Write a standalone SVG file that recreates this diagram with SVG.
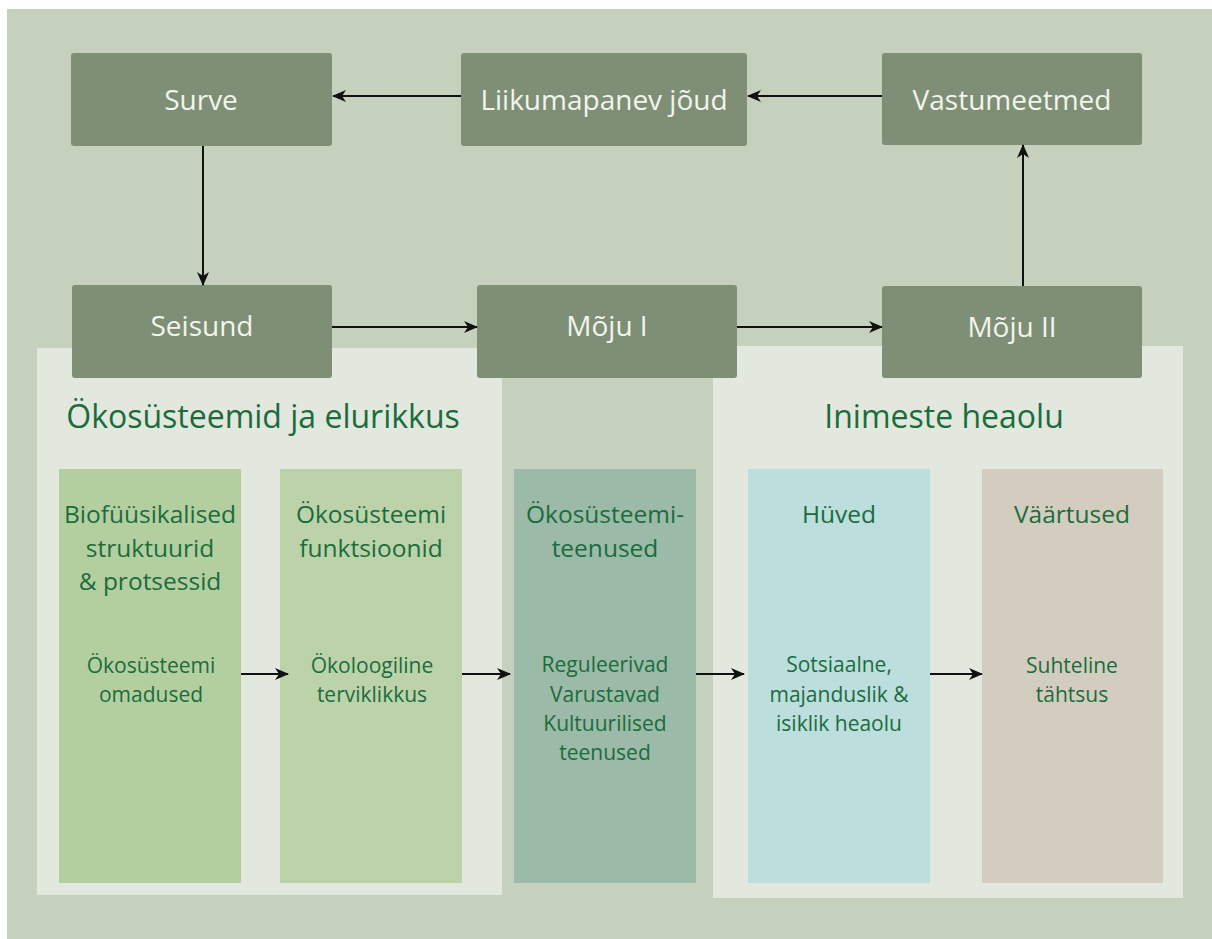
<svg xmlns="http://www.w3.org/2000/svg" width="1212" height="939" viewBox="0 0 1212 939">
  <style>
    .node rect { fill: #7f8f76; }
    .node text { fill: #f1f5ec; font-family: "Open Sans", "Noto Sans", sans-serif; font-size: 28px; text-anchor: middle; }
    .panel { fill: #e2e8de; }
    .title { fill: #1b6c3d; font-family: "Open Sans", "Noto Sans", sans-serif; font-size: 32px; text-anchor: middle; }
    .head { fill: #1b6c3d; font-family: "Open Sans", "Noto Sans", sans-serif; font-size: 24.5px; text-anchor: middle; }
    .sub { fill: #1b6c3d; font-family: "Open Sans", "Noto Sans", sans-serif; font-size: 21px; text-anchor: middle; }
    .conn line { stroke: #111; stroke-width: 2; marker-end: url(#arrow); }
  </style>
  <defs>
    <marker id="arrow" viewBox="0 0 14 12" refX="13" refY="6" markerUnits="userSpaceOnUse" markerWidth="14" markerHeight="12" orient="auto">
      <path d="M0,0 L14,6 L0,12 L4,6 Z" fill="#111"/>
    </marker>
  </defs>

  <!-- page and backdrop -->
  <rect x="0" y="0" width="1212" height="939" fill="#ffffff"/>
  <rect x="7" y="9" width="1205" height="930" fill="#c6d1bd"/>

  <!-- light section panels -->
  <rect class="panel" x="37" y="348" width="465" height="547"/>
  <rect class="panel" x="713" y="346" width="470" height="552"/>

  <!-- section titles -->
  <text class="title" x="263" y="428">Ökosüsteemid ja elurikkus</text>
  <text class="title" x="944" y="428">Inimeste heaolu</text>

  <!-- columns -->
  <g id="col-biofyysikalised">
    <rect x="59" y="469" width="182" height="414" fill="#b4cf9f"/>
    <text class="head" x="150" y="523">Biofüüsikalised</text>
    <text class="head" x="150" y="557">struktuurid</text>
    <text class="head" x="150" y="590">&amp; protsessid</text>
    <text class="sub" x="151" y="673">Ökosüsteemi</text>
    <text class="sub" x="151" y="702">omadused</text>
  </g>
  <g id="col-funktsioonid">
    <rect x="280" y="469" width="182" height="414" fill="#bcd3aa"/>
    <text class="head" x="371" y="523">Ökosüsteemi</text>
    <text class="head" x="371" y="557">funktsioonid</text>
    <text class="sub" x="372" y="673">Ökoloogiline</text>
    <text class="sub" x="372" y="702">terviklikkus</text>
  </g>
  <g id="col-teenused">
    <rect x="514" y="469" width="182" height="414" fill="#9bbaa7"/>
    <text class="head" x="605" y="523">Ökosüsteemi-</text>
    <text class="head" x="605" y="557">teenused</text>
    <text class="sub" x="605" y="672">Reguleerivad</text>
    <text class="sub" x="605" y="702">Varustavad</text>
    <text class="sub" x="605" y="731">Kultuurilised</text>
    <text class="sub" x="605" y="760">teenused</text>
  </g>
  <g id="col-hyved">
    <rect x="748" y="469" width="182" height="414" fill="#bcdedc"/>
    <text class="head" x="839" y="523">Hüved</text>
    <text class="sub" x="839" y="672">Sotsiaalne,</text>
    <text class="sub" x="839" y="702">majanduslik &amp;</text>
    <text class="sub" x="839" y="731">isiklik heaolu</text>
  </g>
  <g id="col-vaartused">
    <rect x="982" y="469" width="181" height="414" fill="#d3cdbf"/>
    <text class="head" x="1072" y="523">Väärtused</text>
    <text class="sub" x="1072" y="673">Suhteline</text>
    <text class="sub" x="1072" y="702">tähtsus</text>
  </g>

  <!-- DPSIR nodes -->
  <g id="surve" class="node">
    <rect x="71" y="53" width="261" height="93" rx="3"/>
    <text x="201" y="110">Surve</text>
  </g>
  <g id="liikumapanev" class="node">
    <rect x="461" y="53" width="286" height="93" rx="3"/>
    <text x="604" y="110">Liikumapanev jõud</text>
  </g>
  <g id="vastumeetmed" class="node">
    <rect x="882" y="53" width="260" height="92" rx="3"/>
    <text x="1012" y="110">Vastumeetmed</text>
  </g>
  <g id="seisund" class="node">
    <rect x="72" y="285" width="260" height="93" rx="3"/>
    <text x="202" y="336">Seisund</text>
  </g>
  <g id="moju1" class="node">
    <rect x="477" y="285" width="260" height="93" rx="3"/>
    <text x="607" y="336">Mõju I</text>
  </g>
  <g id="moju2" class="node">
    <rect x="882" y="286" width="260" height="92" rx="3"/>
    <text x="1012" y="337">Mõju II</text>
  </g>

  <!-- connectors -->
  <g id="connectors" class="conn">
    <line x1="461" y1="96" x2="333" y2="96"/>
    <line x1="882" y1="96" x2="748" y2="96"/>
    <line x1="203" y1="146" x2="203" y2="285"/>
    <line x1="332" y1="327" x2="477" y2="327"/>
    <line x1="737" y1="327" x2="882" y2="327"/>
    <line x1="1023" y1="286" x2="1023" y2="145"/>
    <line x1="241" y1="674" x2="288" y2="674"/>
    <line x1="462" y1="674" x2="510" y2="674"/>
    <line x1="696" y1="674" x2="744" y2="674"/>
    <line x1="930" y1="674" x2="982" y2="674"/>
  </g>
</svg>
